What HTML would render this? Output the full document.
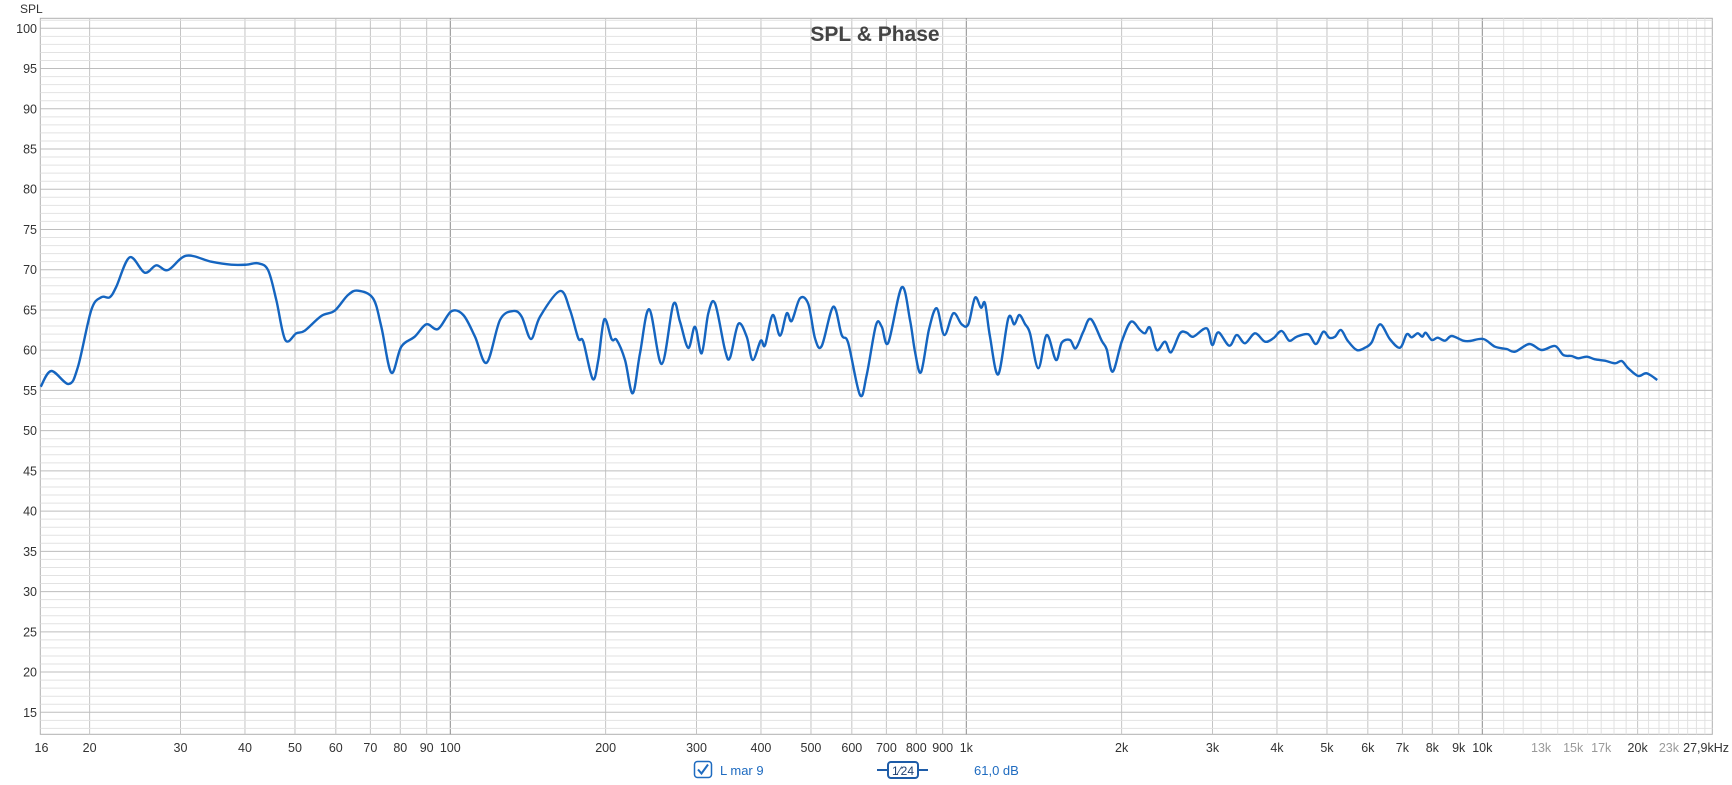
<!DOCTYPE html>
<html><head><meta charset="utf-8"><style>
html,body{margin:0;padding:0;background:#fff;}
body{width:1732px;height:785px;overflow:hidden;font-family:"Liberation Sans",sans-serif;}
</style></head><body>
<svg id="s" width="1732" height="785" xmlns="http://www.w3.org/2000/svg" style="position:absolute;left:0;top:0">
<text x="875" y="41" text-anchor="middle" font-family="Liberation Sans, sans-serif" font-weight="bold" font-size="21" fill="#444">SPL &amp; Phase</text>
<text x="20" y="13" font-size="12" fill="#333">SPL</text>
<rect x="694.5" y="761.5" width="17" height="16" rx="3" fill="#fff" stroke="#1e6bc0" stroke-width="1.5"/>
<path d="M698 769.5 l3.5 4 l6.5 -9" fill="none" stroke="#1e6bc0" stroke-width="2"/>
<text x="720" y="775" font-size="13" fill="#1e6bc0">L mar 9</text>
<line x1="877" y1="770" x2="928" y2="770" stroke="#1e5ca8" stroke-width="2"/>
<rect x="888" y="762" width="30" height="16" rx="3" fill="#fff" stroke="#1e5ca8" stroke-width="2"/>
<text x="903" y="775" text-anchor="middle" font-size="12" fill="#1e3f70">1⁄24</text>
<text x="974" y="775" font-size="13" fill="#1e6bc0">61,0 dB</text>
</svg>
<script>
var s=document.getElementById('s');var NS='http://www.w3.org/2000/svg';
function X(f){return 450.3+516*Math.log10(f/100);}
function Y(d){return 28.3+(100-d)*8.047;}
function el(t,a,txt){var e=document.createElementNS(NS,t);for(var k in a)e.setAttribute(k,a[k]);if(txt)e.textContent=txt;s.insertBefore(e,s.firstChild);return e;}
var L=40.3,R=1712.3,T=18.3,B=734.3;
var g=[];
// horizontal
for(var d=13;d<=102;d++){var y=Y(d);if(y<T||y>B)continue;g.push([L,y,R,y,d%5==0?'#bdbdbd':'#e2e2e2']);}
// vertical
var fs=[20,30,40,50,60,70,80,90,100,200,300,400,500,600,700,800,900,1000,2000,3000,4000,5000,6000,7000,8000,9000,10000];
fs.forEach(function(f){var c=(f==100||f==1000||f==10000)?'#8c8c8c':'#c4c4c4';g.push([X(f),T,X(f),B,c]);});
for(var f=11000;f<=27000;f+=1000){g.push([X(f),T,X(f),B,f==20000?'#c4c4c4':'#e2e2e2']);}
g.forEach(function(l){el('line',{x1:l[0],y1:l[1],x2:l[2],y2:l[3],stroke:l[4],'stroke-width':1});});
el('rect',{x:L,y:T,width:R-L,height:B-T,fill:'#fff',stroke:'#b0b0b0','stroke-width':1});
// y labels
for(var d=15;d<=100;d+=5){var t=document.createElementNS(NS,'text');t.setAttribute('x',37);t.setAttribute('y',Y(d)+4.5);t.setAttribute('text-anchor','end');t.setAttribute('font-size','12.5');t.setAttribute('fill','#333');t.textContent=d;s.appendChild(t);}
var xl=[[16,'16'],[20,'20'],[30,'30'],[40,'40'],[50,'50'],[60,'60'],[70,'70'],[80,'80'],[90,'90'],[100,'100'],[200,'200'],[300,'300'],[400,'400'],[500,'500'],[600,'600'],[700,'700'],[800,'800'],[900,'900'],[1000,'1k'],[2000,'2k'],[3000,'3k'],[4000,'4k'],[5000,'5k'],[6000,'6k'],[7000,'7k'],[8000,'8k'],[9000,'9k'],[10000,'10k'],[13000,'13k',1],[15000,'15k',1],[17000,'17k',1],[20000,'20k'],[23000,'23k',1]];
xl.forEach(function(a){var t=document.createElementNS(NS,'text');var x=X(a[0]);if(a[0]==16)x=41.5;t.setAttribute('x',x);t.setAttribute('y',752);t.setAttribute('text-anchor','middle');t.setAttribute('font-size','12.5');t.setAttribute('fill',a[2]?'#999':'#333');t.textContent=a[1];s.appendChild(t);});
var t=document.createElementNS(NS,'text');t.setAttribute('x',1729);t.setAttribute('y',752);t.setAttribute('text-anchor','end');t.setAttribute('font-size','12.5');t.setAttribute('fill','#333');t.textContent='27,9kHz';s.appendChild(t);
var P=[[40.7,386.7],[51.3,371],[68.7,384],[78,366.7],[91.3,310],[101.3,297.3],[109.7,297.3],[116.3,286.7],[129.7,257.3],[144.7,272.7],[156.3,265.3],[168,270],[186.3,255.7],[211.3,261.7],[231.3,264.7],[246.3,264.7],[258,263.3],[268,270],[276.3,300],[285.3,340],[296.3,333.3],[304.7,330.7],[321.3,316],[334.7,310.7],[348,295],[358,290.7],[373,298.3],[381.3,326.7],[391.3,372.7],[401.3,346.7],[414.7,336.7],[426.3,324.3],[438,329],[451.3,311.3],[463.3,315],[475,336.7],[486.7,362.7],[500,320],[513.3,311],[521.7,316.7],[531,339],[540,316.7],[560,291],[570,310],[578.3,338.3],[583.3,341.7],[592.7,379],[598.3,360],[604.3,319.3],[611.7,339.3],[616.7,340],[625,360],[632.7,393.3],[640,353.3],[649.3,309.3],[661.7,364],[673.3,304.3],[680,321.7],[688.3,348],[695,326.7],[701.7,353.3],[708.3,313.3],[715,303.3],[725,350],[730,357.7],[738.3,324],[746.7,336.7],[752.7,360],[760.7,340.7],[765,345.3],[772.7,315],[780,335.7],[786.7,313.3],[791.7,321],[800,298.3],[808.3,304],[815,338.3],[821.7,346],[833.3,306.7],[841.7,335],[848.3,343.3],[860,395],[866.7,375],[876,325],[881.7,326.7],[888.3,342.7],[901.7,287.3],[910,320],[915,351.7],[921,372.3],[929,329.3],[936.7,308.3],[944.3,335],[953.3,313.3],[961.7,324.3],[968.3,324.3],[975,297.7],[981,307.7],[985,303.3],[990,336.7],[998.3,374.3],[1008.3,318.3],[1014.3,324.3],[1019.3,315],[1025,324],[1030,333.3],[1038.3,368.3],[1046.7,335],[1056,360],[1061.7,342.7],[1070,340],[1075.7,348.3],[1083.3,331.7],[1090.7,319],[1101.7,340.7],[1106.7,349.3],[1112.7,371.7],[1121.7,341.7],[1131,321.7],[1140,330],[1145,333.3],[1150,327.7],[1156.7,350],[1165,341.7],[1171,352.3],[1180,333.3],[1186.7,332.7],[1193.3,336.7],[1206.7,328.3],[1212.3,345],[1218.3,332.3],[1229.3,345.7],[1236.7,335],[1245,343.3],[1255,333.3],[1265,341.7],[1273.3,338.3],[1281.7,331],[1289.3,340.7],[1296.7,336.7],[1308.3,334.3],[1316,344],[1323.3,331.7],[1329.3,337.7],[1335,336.7],[1341,330],[1347.7,340.7],[1356.7,350],[1365,347.7],[1371.7,342.3],[1380,324.3],[1390,339.3],[1400,347.7],[1406.7,334.3],[1411.7,337.3],[1417.7,333.3],[1422.3,336.7],[1425.7,332.7],[1431.7,340],[1437.7,337.7],[1445,340.7],[1451.7,336],[1463.3,340.7],[1470,341],[1483.3,339],[1495,346.7],[1506.7,349],[1515,351.7],[1529.3,344],[1541.7,350],[1555,346],[1563.3,355],[1571.7,356],[1578.3,358.3],[1586.7,356.7],[1595,359.3],[1605,360.7],[1615,363.3],[1621.7,361],[1628.3,368.3],[1638.3,376],[1646.7,373.3],[1657.3,380]];
var d='M'+P[0][0]+' '+P[0][1];
for(var i=0;i<P.length-1;i++){var p0=P[Math.max(0,i-1)],p1=P[i],p2=P[i+1],p3=P[Math.min(P.length-1,i+2)];
var c1x=p1[0]+(p2[0]-p0[0])/6,c1y=p1[1]+(p2[1]-p0[1])/6,c2x=p2[0]-(p3[0]-p1[0])/6,c2y=p2[1]-(p3[1]-p1[1])/6;
d+=' C'+c1x.toFixed(1)+' '+c1y.toFixed(1)+' '+c2x.toFixed(1)+' '+c2y.toFixed(1)+' '+p2[0]+' '+p2[1];}
var pa=document.createElementNS(NS,'path');pa.setAttribute('d',d);pa.setAttribute('fill','none');pa.setAttribute('stroke','#1565c0');pa.setAttribute('stroke-width','2.4');pa.setAttribute('stroke-linejoin','round');s.appendChild(pa);
</script>
</body></html>
